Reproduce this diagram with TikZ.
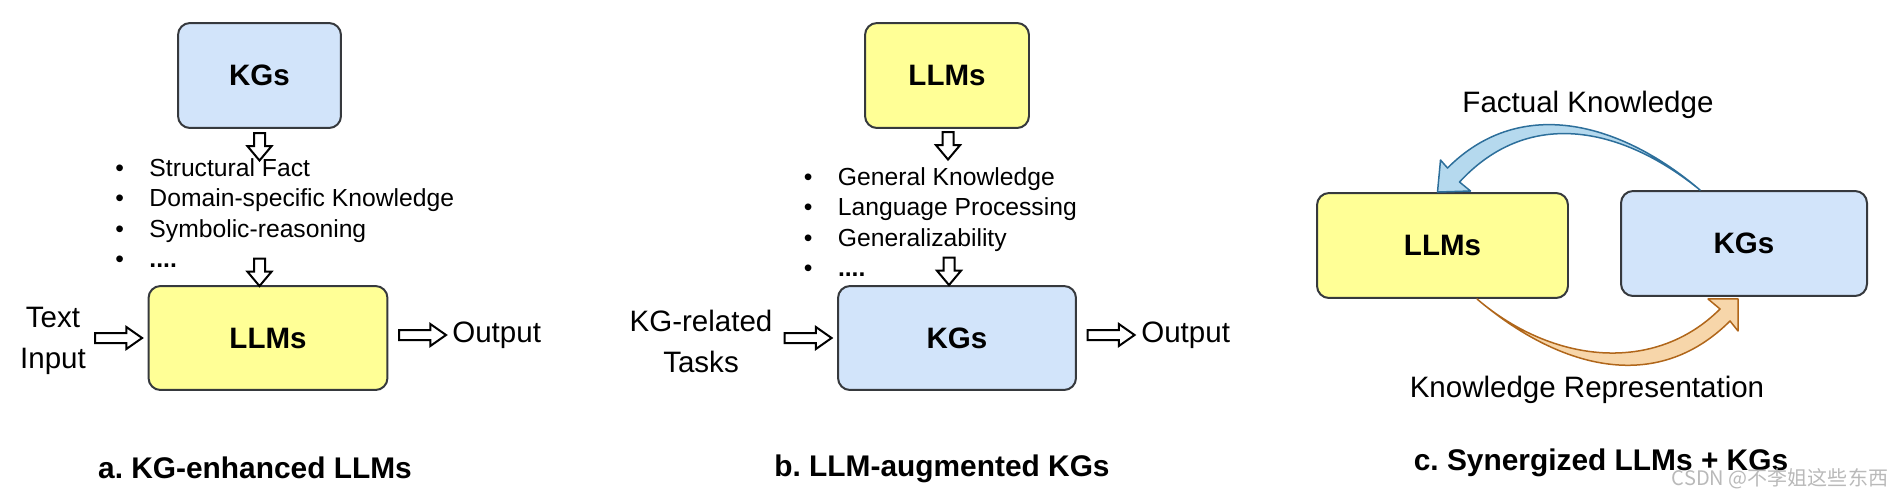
\documentclass[tikz,border=0pt]{standalone}
\usepackage{fontspec}
\setmainfont{Liberation Sans}
\newfontfamily\cjk{Noto Sans CJK SC}
\usepackage{tikz}
\usetikzlibrary{arrows.meta,positioning,calc,shapes.arrows,shapes.geometric}
\definecolor{kgblue}{HTML}{D2E4FA}
\definecolor{llmyellow}{HTML}{FFFF96}
\definecolor{boxline}{HTML}{36393D}
\definecolor{factfill}{HTML}{B5D9EE}
\definecolor{factline}{HTML}{2D6F9B}
\definecolor{reprfill}{HTML}{F7D6AA}
\definecolor{reprline}{HTML}{B0661A}
\tikzset{
  box/.style={draw=boxline,line width=0.04cm,rounded corners=0.24cm,
              font=\bfseries\fontsize{16.8}{20}\selectfont},
  kgbox/.style={box,fill=kgblue},
  llmbox/.style={box,fill=llmyellow},
  plain/.style={inner sep=0pt,font=\fontsize{16.8}{23.3}\selectfont},
  facts/.style={inner sep=0pt,anchor=base west,font=\fontsize{14.05}{17.4}\selectfont},
  caption/.style={inner sep=0pt,anchor=base,font=\bfseries\fontsize{17}{20}\selectfont},
  hollow/.style={draw,fill=white,line width=0.04cm,single arrow,inner sep=0pt,
                 text height=0pt,text depth=0pt,minimum width=0pt},
  vhollow/.style={hollow,inner ysep=0.09cm,single arrow head extend=0.13cm,
                  single arrow tip angle=80,minimum height=0.55cm,rotate=-90},
  hhollow/.style={hollow,inner ysep=0.08cm,single arrow head extend=0.12cm,
                  single arrow tip angle=70,minimum height=0.94cm}
}
\begin{document}
\frenchspacing
\begin{tikzpicture}[x=0.02cm,y=-0.02cm]
\useasboundingbox (0,0) rectangle (1902,494);

\node[kgbox,minimum width=3.26cm,minimum height=2.1cm] (kga) at (259.5,75.5) {KGs};
\node[llmbox,minimum width=4.78cm,minimum height=2.08cm] (llma) at (268,338) {LLMs};
\node[vhollow] (kg2facta) at ($(kga.south)+(0,14.5)$) {};
\node[facts] (facta) at (115,176) {\begin{tabular}[t]{@{}l@{\hspace{0.51cm}}l@{}}
  \textbullet & Structural Fact\\
  \textbullet & Domain-specific Knowledge\\
  \textbullet & Symbolic-reasoning\\
  \textbullet & \textbf{....}
\end{tabular}};
\node[vhollow] (fact2llma) at ($(kga.south |- llma.north)+(0,-16)$) {};
\node[hhollow] (ina) at ($(llma.west)+(-32.5,0)$) {};
\node[hhollow] (outa) at ($(llma.east)+(30.5,-3)$) {};
\node[plain,align=center] (inputa) at (53,341) {Text\\Input};
\node[plain,anchor=base west] (outputa) at (452,342) {Output};
\node[caption] (capa) at (255,478) {a. KG-enhanced LLMs};

\node[llmbox,minimum width=3.28cm,minimum height=2.1cm] (llmb) at (947,75.5) {LLMs};
\node[kgbox,minimum width=4.76cm,minimum height=2.08cm] (kgb) at (957,338) {KGs};
\node[vhollow] (llm2factb) at ($(llmb.south)+(1,13.5)$) {};
\node[facts] (factb) at (803.5,185) {\begin{tabular}[t]{@{}l@{\hspace{0.51cm}}l@{}}
  \textbullet & General Knowledge\\
  \textbullet & Language Processing\\
  \textbullet & Generalizability\\
  \textbullet & \textbf{....}
\end{tabular}};
\node[vhollow] (fact2kgb) at ($(llmb.south |- kgb.north)+(2,-17)$) {};
\node[hhollow] (inb) at ($(kgb.west)+(-32.5,0)$) {};
\node[hhollow] (outb) at ($(kgb.east)+(30.5,-3)$) {};
\node[plain,align=center] (inputb) at (701,341) {KG-related\\Tasks};
\node[plain,anchor=base west] (outputb) at (1141,342) {Output};
\node[caption] (capb) at (942,476) {b. LLM-augmented KGs};

\node[llmbox,minimum width=5.02cm,minimum height=2.1cm] (llmc) at (1442.5,245.5) {LLMs};
\node[kgbox,minimum width=4.92cm,minimum height=2.1cm] (kgc) at (1744,243.5) {KGs};
\coordinate (ft) at ($(kgc.north)+(-44,0)$);
\coordinate (fh) at ($(llmc.north)+(-5,0)$);
\coordinate (rt) at ($(llmc.south)+(34.5,0)$);
\coordinate (rh) at ($(kgc.south)+(-6,2)$);
\draw[factline,fill=factfill,line width=0.03cm,line join=round] (ft)
  .. controls ($(ft)+(-76,-65)$) and ($(fh)+(85,-99)$) .. ($(fh)+(10,-24)$)
  -- ($(fh)+(3,-32)$) -- (fh) -- ($(fh)+(33,-1)$) -- ($(fh)+(22,-10)$)
  .. controls ($(fh)+(93,-87)$) and ($(ft)+(-75,-61)$) .. (ft) -- cycle;
\draw[reprline,fill=reprfill,line width=0.03cm,line join=round] (rt)
  .. controls ($(rt)+(76,65)$) and ($(rh)+(-83,75)$) .. ($(rh)+(-18,10)$)
  -- ($(rh)+(-30,0)$) -- (rh) -- ($(rh)+(0,32)$) -- ($(rh)+(-8,22)$)
  .. controls ($(rh)+(-83,97)$) and ($(rt)+(80,68)$) .. (rt) -- cycle;
\node[plain,anchor=base] (factual) at (1588,112) {Factual Knowledge};
\node[plain,anchor=base] (repr) at (1587,397) {Knowledge Representation};
\node[caption] (capc) at (1601,470) {c. Synergized LLMs + KGs};
\node[inner sep=0pt,text=gray!55,font=\cjk\fontsize{11.4}{12}\selectfont] (mark) at (1780,479) {CSDN @不李姐这些东西};
\end{tikzpicture}
\end{document}
